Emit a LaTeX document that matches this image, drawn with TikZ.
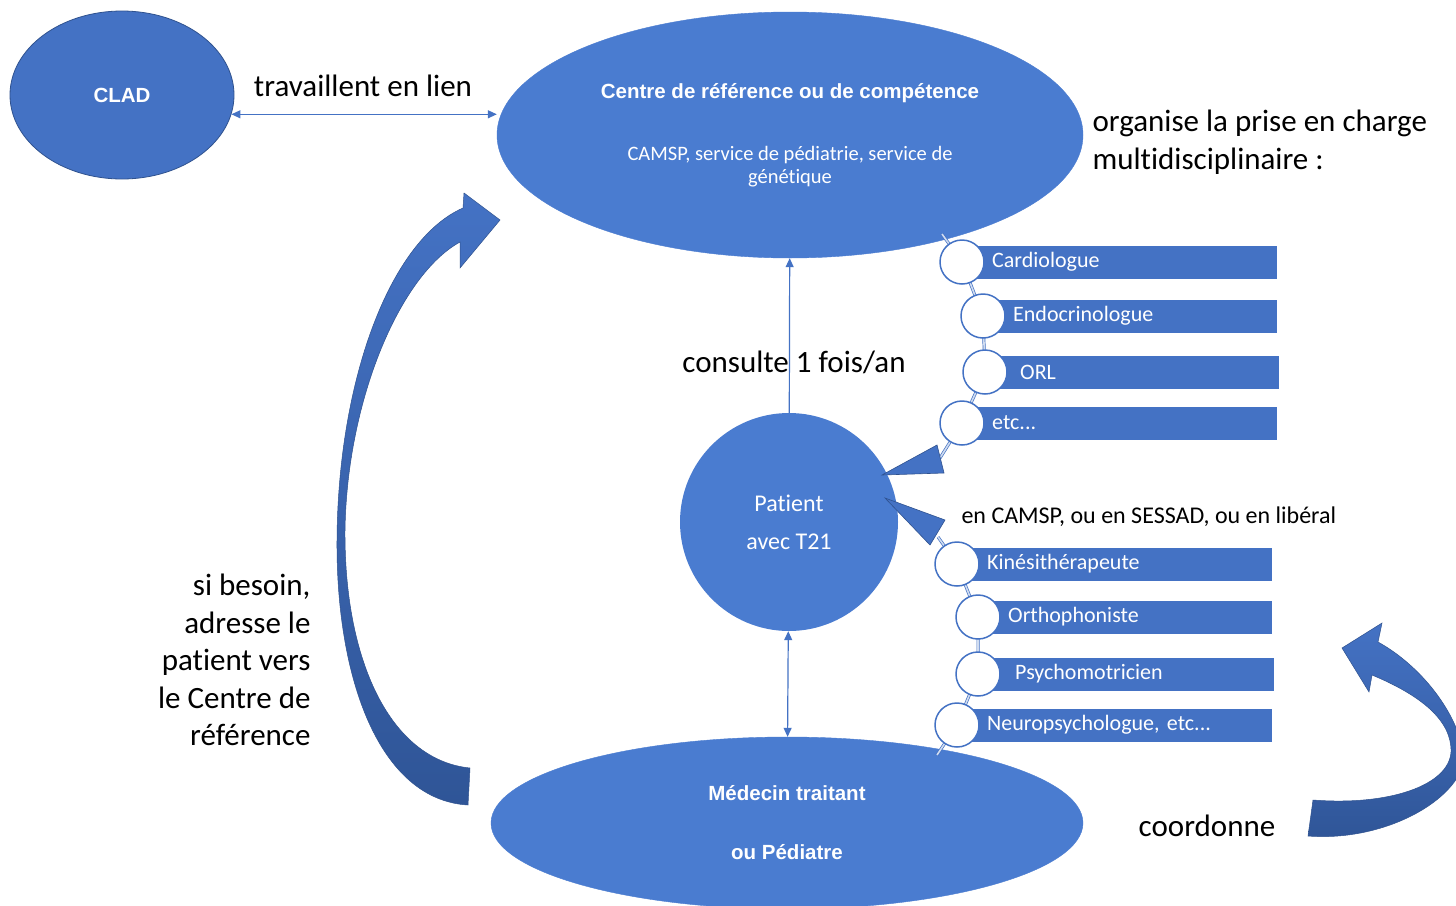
\documentclass[tikz,border=0pt]{standalone}
\usepackage{fontspec}
\setmainfont{Carlito}[Ligatures=NoCommon]
\newfontfamily\arialfont{Liberation Sans}
\usetikzlibrary{shapes.geometric,arrows.meta,positioning}
\definecolor{boxblue}{HTML}{4472C4}
\definecolor{ovalblue}{HTML}{4A7CD0}
\definecolor{edgeblue}{HTML}{2F528F}
\definecolor{darkblue}{HTML}{2F5597}

\begin{document}
\begin{tikzpicture}[x=1pt, y=-1pt,
    	 oval/.style={ellipse, fill=ovalblue, draw=ovalblue, inner sep=0pt, text=white},
    	 link/.style={draw=boxblue, line width=1.2pt, >={Triangle[length=9pt, width=8pt]}},
    	 bigtext/.style={font=\fontsize{31}{37.5}\selectfont},
    	 title/.style={text=white, font=\arialfont\bfseries\fontsize{20.5}{24}\selectfont}]

    	 % style of the list items
    	 \tikzstyle{bar}=[rectangle, fill=boxblue, text=white, anchor=west, minimum height=33pt,
    	   inner xsep=30pt, align=left, font=\fontsize{22}{26}\selectfont]
    	 \tikzstyle{dot}=[circle, fill=white, draw=boxblue, line width=1.5pt, minimum size=44pt, inner sep=0pt]
    	 \tikzstyle{chain}=[draw=boxblue, double=white!75!boxblue, line width=0.7pt, double distance=1.6pt]
    	 \tikzstyle{bendarrow}=[draw=edgeblue, line width=0.5pt, top color=boxblue, bottom color=darkblue]

			\useasboundingbox (0,0) rectangle (1456,905);
			\clip (0,0) rectangle (1456,905);
			\fill[white] (0,0) rectangle (1456,905);

			% the three ovals and the patient
			\node [oval, fill=boxblue, draw=edgeblue, line width=0.8pt, minimum width=224pt, minimum height=168pt,
				title] (clad) at (122,95) {CLAD};
			\node [oval, minimum width=586pt, minimum height=246pt] (centre) at (790,135) {};
			\node [title] (centretitle) at (790,93) {Centre de référence ou de compétence};
			\node [text=white, align=center, font=\fontsize{20.5}{23}\selectfont] (centresub) at (790,167)
				{CAMSP, service de pédiatrie, service de\\génétique};
			\node [circle, fill=ovalblue, minimum size=218pt, inner sep=0pt, text=white, align=center,
				font=\fontsize{24}{38}\selectfont] (patient) at (789,522) {Patient\\avec T21};
			\node [oval, minimum width=592pt, minimum height=172pt, title, align=center,
				font=\arialfont\bfseries\fontsize{20.5}{59}\selectfont] (medecin) at (787,823)
				{Médecin traitant\\ou Pédiatre};

			% links
			\draw [link, <->] (clad.-10) -- (clad.-10 -| centre.west);
			\node [bigtext] (lien) at (363,86) {travaillent en lien};
			\draw [link, ->] (patient) -- (centre);
			\node [bigtext] (consulte) at (794,362) {consulte 1 fois/an};
			\draw [link, <->] (patient) -- (medecin);

			\node [bigtext, anchor=west, align=left] (organise) at (1089,142)
				{organise la prise en charge\\multidisciplinaire :};
			\node [font=\fontsize{24}{28}\selectfont, anchor=west] (lieux) at (958,517)
				{en CAMSP, ou en SESSAD, ou en libéral};

			% specialists
			\node [bar, text width=255pt] (cardio) at (962,262) {Cardiologue};
			\node [bar, text width=234pt] (endo) at (983,316) {Endocrinologue};
			\node [bar, text width=234pt] (orl) at (985,372) {\hspace*{5pt}ORL};
			\node [bar, text width=255pt] (etc) at (962,423) {etc...};
			\coordinate (chaintop) at (942,234);
			\coordinate (chainend) at (940,458);
			\draw [chain] (chaintop) -- (cardio.west) -- (endo.west) -- (orl.west) -- (etc.west) -- (chainend);
			\node [dot] (dcardio) at (cardio.west) {};
			\node [dot] (dendo) at (endo.west) {};
			\node [dot] (dorl) at (orl.west) {};
			\node [dot] (detc) at (etc.west) {};

			% therapists
			\node [bar, text width=255pt] (kine) at (957,564) {Kinésithérapeute};
			\node [bar, text width=234pt] (ortho) at (978,617) {Orthophoniste};
			\node [bar, text width=236pt] (psycho) at (978,674) {\hspace*{7pt}Psychomotricien};
			\node [bar, text width=255pt] (neuro) at (957,725) {Neuropsychologue, etc...};
			\coordinate (chainstart) at (938,537);
			\coordinate (chainbottom) at (937,755);
			\draw [chain] (chainstart) -- (kine.west) -- (ortho.west) -- (psycho.west) -- (neuro.west) -- (chainbottom);
			\node [dot] (dkine) at (kine.west) {};
			\node [dot] (dortho) at (ortho.west) {};
			\node [dot] (dpsycho) at (psycho.west) {};
			\node [dot] (dneuro) at (neuro.west) {};

			% pointers to the patient
			\filldraw [fill=boxblue, draw=edgeblue, line width=0.6pt] (882,475) -- (937,445) -- (944,473) -- cycle;
			\filldraw [fill=boxblue, draw=edgeblue, line width=0.6pt] (885,498) -- (945,520) -- (930,545) -- cycle;

			% curved arrows
			\path [bendarrow] (468,805) .. controls (380,800) and (336,680) .. (337,540)
				.. controls (338,380) and (390,240) .. (463,208)
				-- (464,193) -- (500,220) -- (460,268) -- (460,242)
				.. controls (400,275) and (347,400) .. (345,530)
				.. controls (344,660) and (390,760) .. (470,768) -- cycle;
			\node [bigtext, anchor=east, align=right] (besoin) at (314,660)
				{si besoin,\\adresse le\\patient vers\\le Centre de\\référence};

			\path [bendarrow] (1308,836) .. controls (1385,842) and (1458,800) .. (1464,760)
				.. controls (1462,720) and (1425,668) .. (1378,642)
				-- (1382,623) -- (1342,648) -- (1369,692) -- (1372,675)
				.. controls (1420,695) and (1452,720) .. (1451,752)
				.. controls (1449,785) and (1390,806) .. (1313,800) -- cycle;
			\node [bigtext] (coordonne) at (1207,826) {coordonne};

		\end{tikzpicture}
\end{document}
